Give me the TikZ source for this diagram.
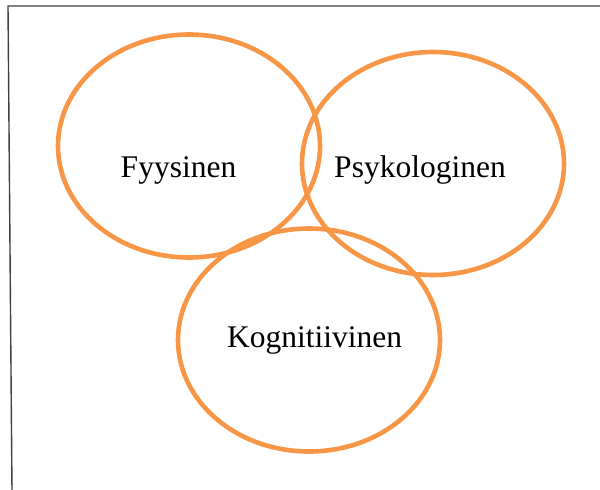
\documentclass[tikz,border=0pt]{standalone}
\usepackage{fontspec}
\setmainfont{Liberation Serif}
\usetikzlibrary{shapes.geometric}
\definecolor{ringorange}{HTML}{F79646}
\definecolor{framegray}{HTML}{3F3F3F}
\begin{document}
\begin{tikzpicture}[x=1pt,y=-1pt,
  ring/.style={draw=ringorange, line width=4.6pt, ellipse, inner sep=0pt,
    minimum width=262pt, minimum height=223pt},
  lbl/.style={anchor=base, inner sep=0pt, font=\fontsize{31.5}{36}\selectfont},
  frameline/.style={draw=framegray, line width=1.4pt}]
  \useasboundingbox (0,0) rectangle (600,490);
  % open frame: top edge and left edge only
  \coordinate (tl) at (8,6);
  \coordinate (tr) at (601,6);
  \coordinate (bl) at (12,491);
  \draw[frameline] (tr) -- (tl) -- (bl);
  % three overlapping rings
  \node[ring] (fyys) at (189,146) {};
  \node[ring] (psyk) at (433,163.5) {};
  \node[ring] (kogn) at (309,340) {};
  % labels
  \node[lbl] (tfyys) at (178.5,177) {Fyysinen};
  \node[lbl] (tpsyk) at (420,177) {Psykologinen};
  \node[lbl] (tkogn) at (314.5,347) {Kognitiivinen};
\end{tikzpicture}
\end{document}
